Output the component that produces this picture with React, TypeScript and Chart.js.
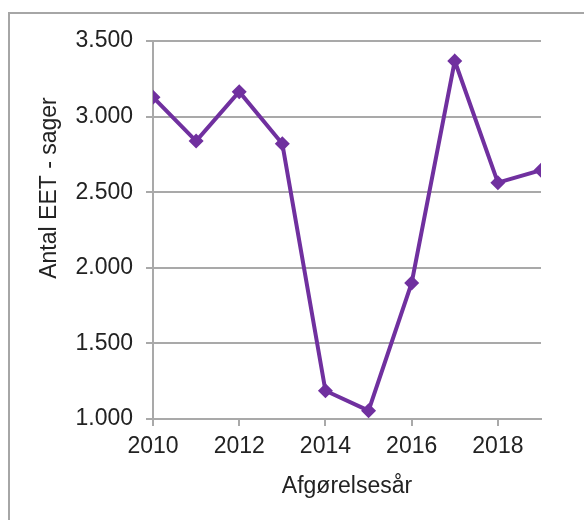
import React, { useEffect, useRef } from "react";
import { Chart, registerables } from "chart.js";

Chart.register(...registerables);

const years = [2010, 2011, 2012, 2013, 2014, 2015, 2016, 2017, 2018, 2019];
const cases = [3128, 2838, 3165, 2820, 1187, 1055, 1900, 3368, 2563, 2645];
const yTicks = [1000, 1500, 2000, 2500, 3000, 3500];
const xTickYears = [2010, 2012, 2014, 2016, 2018];
const yTitle = "Antal EET - sager";
const xTitle = "Afgørelsesår";

const FONT = "'Liberation Sans', Arial, sans-serif";
const TEXT = "#222222";
const GRID = "#a9a9a9";
const PURPLE = "#70309f";

const fmt = (v: number) => {
  const s = String(Math.round(v));
  return s.replace(/\B(?=(\d{3})+(?!\d))/g, ".");
};

export default function App() {
  const ref = useRef<HTMLCanvasElement | null>(null);
  useEffect(() => {
    if (!ref.current) return;
    const yTitlePlugin = {
      id: "yTitleCustom",
      afterDraw(chart: any) {
        const ctx = chart.ctx;
        ctx.save();
        ctx.translate(40, 174);
        ctx.rotate(-Math.PI / 2);
        ctx.textAlign = "center";
        ctx.textBaseline = "middle";
        ctx.fillStyle = TEXT;
        ctx.font = `23px ${FONT}`;
        ctx.fillText(yTitle, 0, 0);
        ctx.restore();
      },
    };
    const chart = new Chart(ref.current, {
      type: "line",
      data: {
        datasets: [
          {
            data: years.map((y, i) => ({ x: y, y: cases[i] })),
            borderColor: PURPLE,
            backgroundColor: PURPLE,
            borderWidth: 4,
            pointStyle: "rectRot",
            pointRadius: 7.5,
            pointBorderWidth: 0,
            pointBackgroundColor: PURPLE,
            tension: 0,
          },
        ],
      },
      options: {
        animation: false,
        responsive: false,
        layout: { padding: { left: 0, top: 27, right: 35, bottom: 12 } },
        plugins: { legend: { display: false }, tooltip: { enabled: false } },
        scales: {
          x: {
            type: "linear",
            min: 2010,
            max: 2019,
            afterFit(scale: any) {
              scale.height = 81;
            },
            afterBuildTicks(scale: any) {
              scale.ticks = xTickYears.map((v) => ({ value: v }));
            },
            ticks: {
              includeBounds: false,
              stepSize: 2,
              color: TEXT,
              font: { family: FONT, size: 23 },
              padding: 7,
              maxRotation: 0,
              callback: (v: any) => String(v),
            },
            grid: {
              drawOnChartArea: false,
              tickLength: 7,
              color: GRID,
              lineWidth: 2,
            },
            border: { display: true, color: GRID, width: 2 },
            title: {
              display: true,
              text: xTitle,
              color: TEXT,
              font: { family: FONT, size: 23 },
              padding: 0,
            },
          },
          y: {
            min: 1000,
            max: 3500,
            afterFit(scale: any) {
              scale.width = 143;
            },
            afterBuildTicks(scale: any) {
              scale.ticks = yTicks.map((v) => ({ value: v }));
            },
            ticks: {
              stepSize: 500,
              color: TEXT,
              font: { family: FONT, size: 23 },
              padding: 13,
              callback: (v: any) => fmt(Number(v)),
            },
            grid: {
              tickLength: 7,
              color: GRID,
              lineWidth: 2,
            },
            border: { display: true, color: GRID, width: 2 },
          },
        },
      },
      plugins: [yTitlePlugin],
    } as any);
    return () => chart.destroy();
  }, []);
  return (
    <div style={{ paddingTop: 4, position: "relative" }}>
      <div
        style={{
          position: "fixed",
          left: 8,
          top: 12,
          width: 590,
          height: 520,
          borderLeft: "2px solid #a6a6a6",
          borderTop: "2px solid #a6a6a6",
          pointerEvents: "none",
        }}
      />
      <div style={{ paddingLeft: 2, paddingTop: 2 }}>
        <canvas
          ref={ref}
          width={566}
          height={498}
          style={{ display: "block", width: 566, height: 498 }}
        />
      </div>
    </div>
  );
}
